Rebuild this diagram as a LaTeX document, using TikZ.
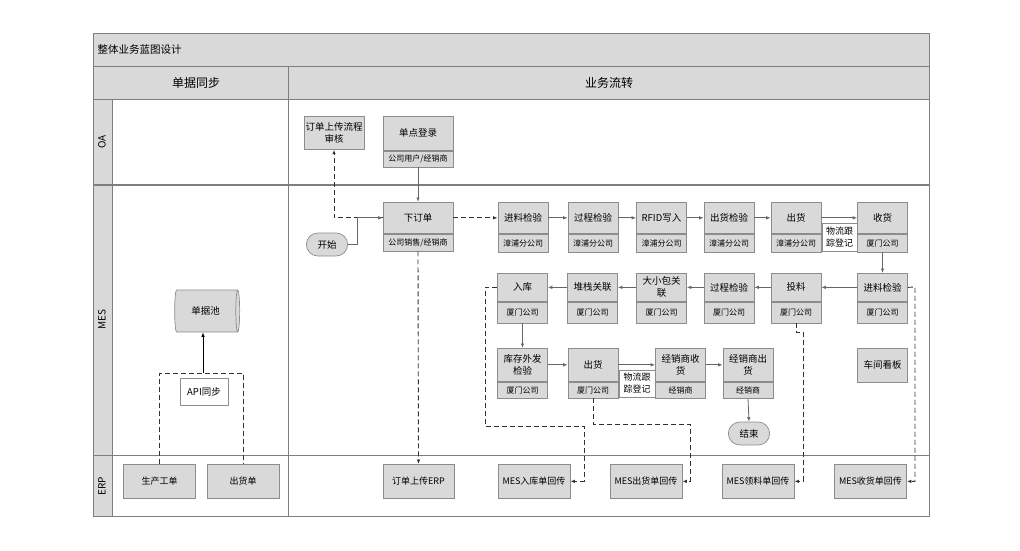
\documentclass[tikz,border=0pt]{standalone}
\usepackage{fontspec}
\setmainfont{Noto Sans CJK SC}
\usetikzlibrary{shapes.geometric,shapes.misc,arrows.meta}
\definecolor{bx}{HTML}{D9D9D9}
\definecolor{bd}{HTML}{8C8C8C}
\definecolor{fr}{HTML}{7F7F7F}
\definecolor{ln}{HTML}{666666}
\definecolor{dl}{HTML}{333333}
\begin{document}
\begin{tikzpicture}[x=1pt,y=-1pt,
  pbox/.style={draw=bd, fill=bx, line width=0.7pt, minimum width=50pt, anchor=north, inner sep=1pt, align=center, font=\fontsize{9.5}{12}\selectfont},
  psub/.style={draw=bd, fill=bx, line width=0.7pt, minimum width=50pt, anchor=north, inner sep=1pt, font=\fontsize{8}{10}\selectfont},
  ebox/.style={draw=bd, fill=bx, line width=0.7pt, minimum width=72pt, minimum height=34pt, anchor=north, inner sep=1pt, font=\fontsize{9}{11}\selectfont},
  lbl/.style={draw=bd, fill=white, line width=0.6pt, inner sep=1pt, align=center, font=\fontsize{9}{12}\selectfont},
  term/.style={rounded rectangle, draw=bd, fill=bx, line width=0.7pt, minimum width=48pt, minimum height=23pt, font=\fontsize{9.5}{12}\selectfont},
  sarrow/.style={draw=ln, line width=0.8pt, -{Latex[length=4.5pt,width=3.5pt]}},
  darrow/.style={draw=dl, line width=0.9pt, dash pattern=on 5pt off 3pt, -{Latex[length=4.5pt,width=3.5pt]}},
  dline/.style={draw=dl, line width=0.9pt, dash pattern=on 5pt off 3pt},
  frm/.style={draw=fr, line width=1pt},
  lane/.style={rotate=90, font=\fontsize{10}{12}\selectfont}
]
\useasboundingbox (0,0) rectangle (1020,550);
% frame
\fill[bx] (93,33) rectangle (929,99);
\fill[bx] (93,99) rectangle (112,516);
\draw[frm] (93,33) rectangle (929,516);
\draw[frm] (93,66) -- (929,66);
\draw[frm] (93,99) -- (929,99);
\draw[frm] (288,66) -- (288,516);
\draw[frm] (112,99) -- (112,516);
\draw[frm, line width=1.3pt] (93,185) -- (929,185);
\draw[frm] (93,455) -- (929,455);
\node[anchor=west, font=\fontsize{10.5}{12}\selectfont] (title) at (94,49.5) {整体业务蓝图设计};
\node[font=\fontsize{12}{14}\selectfont] (h1) at (196,82.5) {单据同步};
\node[font=\fontsize{12}{14}\selectfont] (h2) at (609,82.5) {业务流转};
\node[lane] (lOA) at (102,142) {OA};
\node[lane] (lMES) at (102,320) {MES};
\node[lane] (lERP) at (102,486) {ERP};

% OA lane
\node[pbox, minimum width=60pt, minimum height=33pt] (shenhe) at (334,116) {订单上传流程\\审核};
\node[pbox, minimum width=70pt, minimum height=34pt] (sso) at (418,116) {单点登录};
\node[psub, minimum width=70pt, minimum height=16pt] (sso-s) at (sso.south) {公司用户/经销商};

% MES lane
\node[term] (start) at (327,244.5) {开始};
\node[pbox, minimum width=70pt, minimum height=31pt] (xdd) at (418,202) {下订单};
\node[psub, minimum width=70pt, minimum height=17pt] (xdd-s) at (xdd.south) {公司销售/经销商};

% row 1
\node[pbox, minimum height=31pt] (a1) at (523,202) {进料检验};
\node[psub, minimum height=18pt] (a1-s) at (a1.south) {漳浦分公司};
\node[pbox, minimum height=31pt] (a2) at (593,202) {过程检验};
\node[psub, minimum height=18pt] (a2-s) at (a2.south) {漳浦分公司};
\node[pbox, minimum height=31pt] (a3) at (661.5,202) {RFID写入};
\node[psub, minimum height=18pt] (a3-s) at (a3.south) {漳浦分公司};
\node[pbox, minimum height=31pt] (a4) at (729,202) {出货检验};
\node[psub, minimum height=18pt] (a4-s) at (a4.south) {漳浦分公司};
\node[pbox, minimum height=31pt] (a5) at (796,202) {出货};
\node[psub, minimum height=18pt] (a5-s) at (a5.south) {漳浦分公司};
\node[pbox, minimum height=31pt] (a6) at (882.5,202) {收货};
\node[psub, minimum height=18pt] (a6-s) at (a6.south) {厦门公司};
\node[lbl, minimum width=35pt, minimum height=28pt] (wl1) at (839.5,237) {物流跟\\踪登记};

% row 2
\node[pbox, minimum height=28pt] (b1) at (522.5,273) {入库};
\node[psub, minimum height=21pt] (b1-s) at (b1.south) {厦门公司};
\node[pbox, minimum height=28pt] (b2) at (592.5,273) {堆栈关联};
\node[psub, minimum height=21pt] (b2-s) at (b2.south) {厦门公司};
\node[pbox, minimum height=28pt] (b3) at (661.5,273) {大小包关\\联};
\node[psub, minimum height=21pt] (b3-s) at (b3.south) {厦门公司};
\node[pbox, minimum height=28pt] (b4) at (729,273) {过程检验};
\node[psub, minimum height=21pt] (b4-s) at (b4.south) {厦门公司};
\node[pbox, minimum height=28pt] (b5) at (796,273) {投料};
\node[psub, minimum height=21pt] (b5-s) at (b5.south) {厦门公司};
\node[pbox, minimum height=28pt] (b6) at (882.5,273) {进料检验};
\node[psub, minimum height=21pt] (b6-s) at (b6.south) {厦门公司};

% row 3
\node[pbox, minimum height=33pt] (c1) at (522.5,348) {库存外发\\检验};
\node[psub, minimum height=16pt] (c1-s) at (c1.south) {厦门公司};
\node[pbox, minimum height=33pt] (c2) at (593,348) {出货};
\node[psub, minimum height=16pt] (c2-s) at (c2.south) {厦门公司};
\node[pbox, minimum height=33pt] (c3) at (680.5,348) {经销商收\\货};
\node[psub, minimum height=16pt] (c3-s) at (c3.south) {经销商};
\node[pbox, minimum height=33pt] (c4) at (748,348) {经销商出\\货};
\node[psub, minimum height=16pt] (c4-s) at (c4.south) {经销商};
\node[lbl, minimum width=36pt, minimum height=27pt] (wl2) at (637,383.5) {物流跟\\踪登记};
\node[term] (end) at (749,433.5) {结束};
\node[pbox, minimum height=34pt] (kb) at (882.5,348) {车间看板};

% left lane
\node[cylinder, draw=bd, fill=bx, line width=0.7pt, aspect=0.25, minimum height=65pt, minimum width=42pt, font=\fontsize{9.5}{12}\selectfont] (pool) at (205.5,311) {单据池};

% ERP lane
\node[ebox] (scgd) at (159.5,464) {生产工单};
\node[ebox] (chd) at (243,464) {出货单};
\node[ebox, minimum width=71pt] (erp1) at (418.5,464) {订单上传ERP};
\node[ebox] (erp2) at (534,464) {MES入库单回传};
\node[ebox] (erp3) at (646,464) {MES出货单回传};
\node[ebox] (erp4) at (758,464) {MES领料单回传};
\node[ebox] (erp5) at (870.5,464) {MES收货单回传};

% connectors
\coordinate (api) at (203,373);
\draw[dline] (scgd.north) |- (api) -| (chd.north);
\draw[sarrow, draw=black] (api) -- (api |- pool.south);
\node[lbl, minimum width=48pt, minimum height=27pt, font=\fontsize{9.5}{12}\selectfont] (apil) at (204,391.5) {API同步};

\draw[darrow] (xdd.west) -| (shenhe.south);
\draw[sarrow] (start.east) -- ++(9,0) |- (xdd.west);
\draw[sarrow] (sso-s.south) -- (xdd.north);
\draw[darrow] (xdd-s.south) -- (erp1.north);
\draw[darrow] (xdd.east) -- (a1.west);
\draw[sarrow] (a1.east) -- (a2.west);
\draw[sarrow] (a2.east) -- (a3.west);
\draw[sarrow] (a3.east) -- (a4.west);
\draw[sarrow] (a4.east) -- (a5.west);
\draw[sarrow] (a5.east) -- (a6.west);
\draw[sarrow] (a6-s.south) -- (b6.north);
\draw[sarrow] (b6.west) -- (b5.east);
\draw[sarrow] (b5.west) -- (b4.east);
\draw[sarrow] (b4.west) -- (b3.east);
\draw[sarrow] (b3.west) -- (b2.east);
\draw[sarrow] (b2.west) -- (b1.east);
\draw[sarrow] (b1-s.south) -- (c1.north);
\draw[sarrow] (c1.east) -- (c2.west);
\draw[sarrow] (c2.east) -- (c3.west);
\draw[sarrow] (c3.east) -- (c4.west);
\draw[sarrow] (c4-s.south) -- (end.north);

\coordinate (d1) at (485,426);
\coordinate (d1b) at (584,426);
\draw[darrow] (b1.west) -| (d1) -- (d1b) |- (erp2.east);
\coordinate (d2) at (690,424);
\draw[darrow] (c2-s.south) |- (d2) |- (erp3.east);
\coordinate (d3) at (803,332);
\draw[darrow] (b5-s.south) |- (d3) |- (erp4.east);
\coordinate (d4) at (915,287);
\draw[darrow] (b6.east) -- (d4) |- (erp5.east);
\end{tikzpicture}
\end{document}
